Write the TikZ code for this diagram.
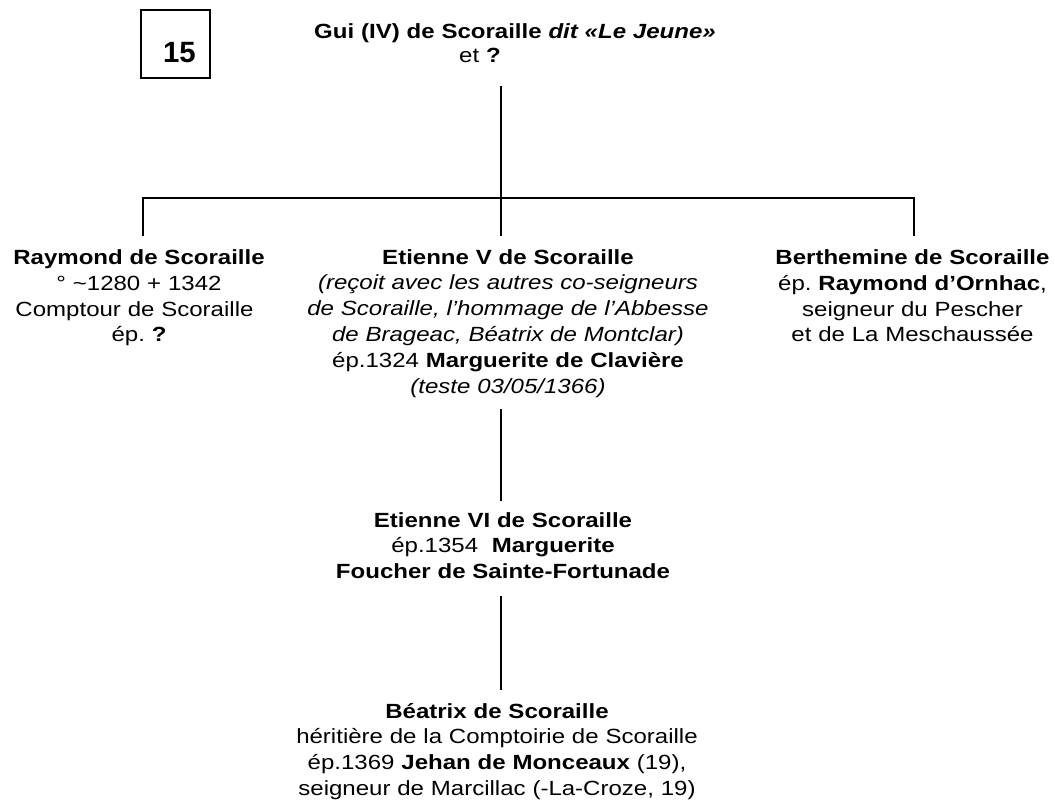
\documentclass[tikz,border=0pt]{standalone}
\usepackage{fontspec}
\setmainfont{Liberation Sans}[FakeStretch=1.17]
\newfontfamily\numfont{Liberation Sans}
\newlength\px
\setlength\px{0.75pt}
\frenchspacing
\begin{document}
\begin{tikzpicture}[x=0.75pt,y=-0.75pt,
  txt/.style={inner sep=0pt, anchor=base, text width=600\px, align=center,
    font=\fontsize{15.4}{19.35}\selectfont\frenchspacing},
  conn/.style={line width=2pt, line cap=rect},
  numbox/.style={draw, line width=1.1pt, minimum width=69\px, minimum height=68\px, inner sep=0pt}]
\useasboundingbox (0,0) rectangle (1055,810);

\node[numbox] (box) at (175.5,44) {};
\node[inner sep=0pt, anchor=base, font=\numfont\fontsize{22}{22}\selectfont\bfseries] (num) at (179.5,62) {15};

\node[txt] (gui) at (515,38) {\textbf{Gui (IV) de Scoraille \textit{dit «Le Jeune»}}};
\node[txt] (guiw) at (480,62) {et \textbf{?}};

\node[txt, text width=280\px] (raymond) at (139,264) {\baselineskip=26\px
\textbf{Raymond de Scoraille}\\
° \textasciitilde1280 + 1342\\
\makebox[247\px][s]{Comptour de Scoraille}\\
ép. \textbf{?}};

\node[txt] (etienne5) at (508,264) {\baselineskip=25.8\px
\textbf{Etienne V de Scoraille}\\
\textit{(reçoit avec les autres co-seigneurs}\\
\textit{de Scoraille, l’hommage de l’Abbesse}\\
\textit{de Brageac, Béatrix de Montclar)}\\
ép.1324 \textbf{Marguerite de Clavière}\\
\textit{(teste 03/05/1366)}};

\node[txt, text width=290\px] (berthemine) at (912.5,264) {\baselineskip=26\px
\textbf{Berthemine de Scoraille}\\
ép. \textbf{Raymond d’Ornhac},\\
seigneur du Pescher\\
et de La Meschaussée};

\node[txt] (etienne6) at (503,527) {\baselineskip=25.5\px
\textbf{Etienne VI de Scoraille}\\
ép.1354 \ \textbf{Marguerite}\\
\textbf{Foucher de Sainte-Fortunade}};

\node[txt] (beatrix) at (497,718) {\baselineskip=25.7\px
\textbf{Béatrix de Scoraille}\\
héritière de la Comptoirie de Scoraille\\
ép.1369 \textbf{Jehan de Monceaux} (19),\\
seigneur de Marcillac (-La-Croze, 19)};

\coordinate (c0) at (501,87);
\coordinate (cm) at (501,198);
\coordinate (cl) at (143,198);
\coordinate (cr) at (914,198);
\coordinate (cl2) at (143,235);
\coordinate (cr2) at (914,235);
\coordinate (c5) at (501,235);
\coordinate (d1) at (501,410);
\coordinate (d2) at (501,500);
\coordinate (e1) at (501,597);
\coordinate (e2) at (501,689);

\draw[conn] (c0) -- (c5);
\draw[conn] (cl2) -- (cl) -- (cr) -- (cr2);
\draw[conn] (d1) -- (d2);
\draw[conn] (e1) -- (e2);
\end{tikzpicture}
\end{document}
